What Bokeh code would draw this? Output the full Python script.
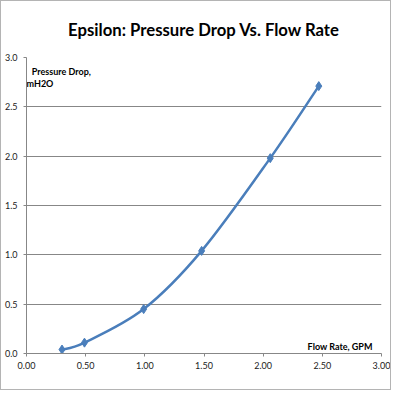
from bokeh.plotting import figure
from bokeh.models import Range1d, Label, FixedTicker, NumeralTickFormatter, Title
from bokeh.embed import file_html
from bokeh.resources import INLINE

# ---- data ----
flow_gpm = [0.30, 0.49, 0.99, 1.48, 2.06, 2.47]
pressure_mh2o = [0.04, 0.11, 0.45, 1.04, 1.98, 2.71]
x_ticks = [0.0, 0.5, 1.0, 1.5, 2.0, 2.5, 3.0]
y_ticks = [0.0, 0.5, 1.0, 1.5, 2.0, 2.5, 3.0]
title_text = "Epsilon: Pressure Drop Vs. Flow Rate"
x_title = "Flow Rate, GPM"
y_title_line1 = "Pressure Drop,"
y_title_line2 = "mH2O"

LINE = "#4A7EBB"
GRID = "#878787"
FONT = "Lato"

p = figure(frame_width=355, frame_height=296, output_backend="svg", toolbar_location=None,
           x_range=Range1d(0, 3), y_range=Range1d(0, 3),
           min_border_left=20, min_border_right=9, min_border_top=56, min_border_bottom=36)
p.styles = {"border": "1px solid #b4b4b4"}
p.outline_line_color = None
p.background_fill_color = "white"
p.border_fill_color = "white"

p.title.text = title_text
p.title.align = "center"
p.title.offset = -6
p.title.text_font = FONT
p.title.text_font_style = "bold"
p.title.text_font_size = "16.7px"
p.title.text_color = "#000000"

# empty spacer between the title and the plot area
p.add_layout(Title(text=" ", text_font_size="9.5px", standoff=0), "above")

# axes
for ax in (p.xaxis[0], p.yaxis[0]):
    ax.axis_line_color = GRID
    ax.major_tick_line_color = GRID
    ax.major_tick_out = 3
    ax.major_tick_in = 0
    ax.minor_tick_line_color = None
    ax.major_label_text_font = FONT
    ax.major_label_text_font_size = "9px"
    ax.major_label_text_color = "#1a1a1a"
p.xaxis[0].ticker = FixedTicker(ticks=x_ticks)
p.yaxis[0].ticker = FixedTicker(ticks=y_ticks)
p.xaxis[0].formatter = NumeralTickFormatter(format="0.00")
p.yaxis[0].formatter = NumeralTickFormatter(format="0.0")
p.xaxis[0].major_label_standoff = 5
p.yaxis[0].major_label_standoff = 6

p.xgrid.grid_line_color = None
p.ygrid.ticker = FixedTicker(ticks=y_ticks)
p.ygrid.grid_line_color = GRID
p.ygrid.grid_line_width = 1

# smoothed line (Catmull-Rom style Bezier through the data points, like Excel)
n = len(flow_gpm)
x0s, y0s, x1s, y1s, cx0s, cy0s, cx1s, cy1s = [], [], [], [], [], [], [], []
for i in range(n - 1):
    xa, ya = flow_gpm[i], pressure_mh2o[i]
    xb, yb = flow_gpm[i + 1], pressure_mh2o[i + 1]
    xp, yp = (flow_gpm[i - 1], pressure_mh2o[i - 1]) if i > 0 else (xa, ya)
    xn, yn = (flow_gpm[i + 2], pressure_mh2o[i + 2]) if i + 2 < n else (xb, yb)
    x0s.append(xa); y0s.append(ya); x1s.append(xb); y1s.append(yb)
    cx0s.append(xa + (xb - xp) / 6.0); cy0s.append(ya + (yb - yp) / 6.0)
    cx1s.append(xb - (xn - xa) / 6.0); cy1s.append(yb - (yn - ya) / 6.0)
p.bezier(x0=x0s, y0=y0s, x1=x1s, y1=y1s, cx0=cx0s, cy0=cy0s, cx1=cx1s, cy1=cy1s,
         line_color=LINE, line_width=2.5)
p.scatter(flow_gpm, pressure_mh2o, marker="diamond", size=9,
          fill_color=LINE, line_color=LINE)

# axis titles placed inside the plot area, as in the reference
lab_kw = dict(text_font=FONT, text_font_style="bold", text_font_size="9px",
              text_color="#000000", text_baseline="alphabetic")
p.add_layout(Label(x=2.925, y=0.068, text=x_title, text_align="right", **lab_kw))
p.add_layout(Label(x=0.045, y=2.855, text=y_title_line1, text_align="left", **lab_kw))
p.add_layout(Label(x=0.0, y=2.74, text=y_title_line2, text_align="left", **lab_kw))

open("out.html", "w").write(file_html(p, INLINE))
